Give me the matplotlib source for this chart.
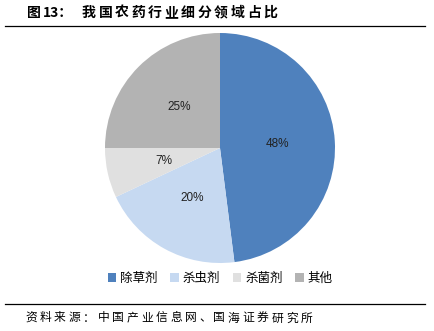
import matplotlib.pyplot as plt
from matplotlib.lines import Line2D

plt.rcParams['font.family'] = ['Noto Sans CJK SC', 'DejaVu Sans']

# 数据
labels = ['除草剂', '杀虫剂', '杀菌剂', '其他']
values = [48, 20, 7, 25]
colors = ['#4f81bd', '#c6d9f1', '#e0e0e0', '#b3b3b3']

W, H = 434, 331
fig = plt.figure(figsize=(W / 100, H / 100), dpi=100)


def spaced(x, y, s, step, **kw):
    # 逐字排列，模仿原图的字间距
    for i, ch in enumerate(s):
        fig.text((x + i * step) / W, 1 - y / H, ch, va='center', ha='left', **kw)


# 饼图
cx, cy, r = 220, 148, 115
ax = fig.add_axes([(cx - r) / W, 1 - (cy + r) / H, 2 * r / W, 2 * r / H])
wedges, texts, autotexts = ax.pie(
    values, colors=colors, startangle=90, counterclock=False,
    autopct='%d%%', pctdistance=0.5,
    wedgeprops=dict(linewidth=0),
    textprops=dict(fontsize=8.5, color='#222222', family=['Liberation Sans']),
)
ax.set_xlim(-1, 1)
ax.set_ylim(-1, 1)

leg = ax.legend(wedges, labels, loc='center', bbox_to_anchor=(0.5, (r - (278 - cy)) / (2 * r)),
                ncol=4, frameon=False, fontsize=9, handlelength=0.7, handleheight=0.7,
                handletextpad=0.3, columnspacing=1.0)

# 标题和分割线
spaced(27, 13, '图', 16, fontsize=10, fontweight='bold')
fig.text(43 / W, 1 - 13 / H, '13：', fontsize=10, fontweight='bold', va='center', ha='left')
spaced(82, 13, '我国农药行业细分领域占比', 16.5, fontsize=10, fontweight='bold')

fig.add_artist(Line2D([5 / W, 425 / W], [1 - 26 / H, 1 - 26 / H],
                      color='black', linewidth=0.9))
fig.add_artist(Line2D([5 / W, 425 / W], [1 - 304 / H, 1 - 304 / H],
                      color='black', linewidth=0.9))
spaced(25, 318, '资料来源：中国产业信息网、国海证券研究所', 14.5, fontsize=8.5)

fig.savefig('out.png', dpi=100)
